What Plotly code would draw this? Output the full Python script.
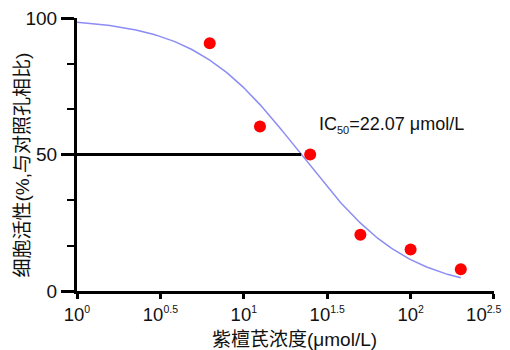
import numpy as np
import plotly.graph_objects as go

# Data
conc = [6.25, 12.5, 25, 50, 100, 200]          # µmol/L
viability = [90.8, 60.3, 50.0, 20.6, 15.2, 8.0]  # % of control
ic50 = 22.07
hill = 1.35
top = 100.0
bottom = 0.0
x_tickvals = [1, 10**0.5, 10, 10**1.5, 100, 10**2.5]
x_exponents = ["0", "0.5", "1", "1.5", "2", "2.5"]
y_tickvals = [0, 50, 100]

x_ticktext = ['10<sup><span style="font-size:10.5px">%s</span></sup>' % e for e in x_exponents]
x_ticktext[-1] = x_ticktext[-1] + "\u00a0" * 4   # nudge the edge label inside the window

# fitted four-parameter logistic curve
xf = np.logspace(0, np.log10(200), 200)
yf = bottom + (top - bottom) / (1 + (xf / ic50) ** hill)

FONT = "Liberation Sans, Arial, Noto Sans CJK SC, sans-serif"
TXT = "#111"

fig = go.Figure()
fig.add_trace(go.Scatter(x=xf, y=yf, mode="lines",
                         line=dict(color="#8c8cf5", width=1.5),
                         hoverinfo="skip", showlegend=False, cliponaxis=False))
fig.add_trace(go.Scatter(x=[1, ic50], y=[50, 50], mode="lines",
                         line=dict(color="black", width=3),
                         showlegend=False, cliponaxis=False))
fig.add_trace(go.Scatter(x=conc, y=viability, mode="markers",
                         marker=dict(color="#ff0000", size=12),
                         showlegend=False, cliponaxis=False))

fig.add_annotation(x=1.437, y=60.8, xref="x", yref="y",
                   text='IC<sub><span style="font-size:11px">50</span></sub>=22.07 μmol/L',
                   showarrow=False, xanchor="left", yanchor="middle",
                   font=dict(family=FONT, size=18, color=TXT))
# axis titles
fig.add_annotation(x=0, y=0.5, xref="paper", yref="paper", xshift=-55, yshift=-11,
                   text="细胞活性(%,与对照孔相比)", textangle=-90, showarrow=False,
                   xanchor="center", yanchor="middle",
                   font=dict(family=FONT, size=19, color=TXT))
fig.add_annotation(x=0.5, y=0, xref="paper", yref="paper", xshift=9, yshift=-48,
                   text="紫檀芪浓度(μmol/L)", showarrow=False,
                   xanchor="center", yanchor="middle",
                   font=dict(family=FONT, size=19, color=TXT))

fig.update_xaxes(type="log", range=[0, 2.5001], automargin=False,
                 tickvals=x_tickvals, ticktext=x_ticktext,
                 ticklabeloverflow="allow",
                 ticks="outside", ticklen=5, tickwidth=3, tickcolor="black",
                 showline=True, linecolor="black", linewidth=3,
                 showgrid=False, zeroline=False,
                 tickfont=dict(family=FONT, size=18.5, color=TXT))
fig.update_yaxes(range=[0, 100.01], tickvals=y_tickvals, automargin=False,
                 ticklabeloverflow="allow",
                 ticks="outside", ticklen=13, tickwidth=3, tickcolor="black",
                 minor=dict(tick0=0, dtick=100/6, ticks="outside",
                            ticklen=7, tickwidth=2, tickcolor="black"),
                 showline=True, linecolor="black", linewidth=3,
                 showgrid=False, zeroline=False,
                 tickfont=dict(family=FONT, size=19, color=TXT))

fig.update_layout(width=502, height=342,
                  margin=dict(l=69, r=16, t=10, b=59),
                  plot_bgcolor="white", paper_bgcolor="white")

fig.write_html("out.html")
